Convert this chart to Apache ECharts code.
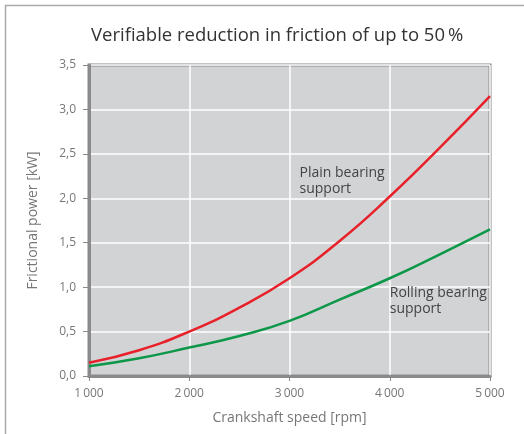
<!DOCTYPE html>
<html><head><meta charset="utf-8">
<script src="https://cdn.jsdelivr.net/npm/echarts@6/dist/echarts.min.js"></script>
<style>html,body{margin:0;padding:0;background:#fff}#c{width:524px;height:434px}</style>
</head><body><div id="c"></div>
<script>
const speeds = [1000, 1500, 2000, 2500, 3000, 3500, 4000, 4500, 5000];
const plainBearing = [0.15, 0.29, 0.50, 0.77, 1.10, 1.52, 2.02, 2.57, 3.15];
const rollingBearing = [0.11, 0.20, 0.32, 0.45, 0.62, 0.86, 1.10, 1.37, 1.65];
const xTicks = [1000, 2000, 3000, 4000, 5000];
const yTicks = [0, 0.5, 1, 1.5, 2, 2.5, 3, 3.5];
const title = 'Verifiable reduction in friction of up to 50\u2009%';
const labelPlain = ['Plain bearing', 'support'];
const labelRolling = ['Rolling bearing', 'support'];
const labelPlainAt = [3100, 2.38];
const labelRollingAt = [4000, 1.02];

const FONT = 'Open Sans';
const chart = echarts.init(document.getElementById('c'), null, {renderer: 'canvas'});
const fmtX = v => String(v).replace(/\B(?=(\d{3})+(?!\d))/g, '\u2009');
chart.setOption({
  animation: false,
  backgroundColor: '#fff',
  title: {text: title, left: 86, top: 21,
    textStyle: {fontFamily: FONT, fontSize: 18.5, fontWeight: 'normal', color: '#333'}},
  grid: {left: 89, right: 34, top: 65, bottom: 58, show: true,
    backgroundColor: '#d2d3d5', borderColor: '#8a8a8c', borderWidth: 3},
  xAxis: {type: 'value', min: 1000, max: 5000, interval: 1000,
    name: 'Crankshaft speed [rpm]', nameLocation: 'middle', nameGap: 35,
    nameTextStyle: {fontFamily: FONT, fontSize: 14, color: '#777'},
    axisLine: {lineStyle: {color: '#8a8a8c', width: 3}},
    axisTick: {show: true, length: 5, lineStyle: {color: '#8a8a8c', width: 1}},
    axisLabel: {fontFamily: FONT, fontSize: 12, color: '#777', margin: 12, formatter: fmtX},
    splitLine: {show: true, lineStyle: {color: '#fff', width: 1.5}}},
  yAxis: {type: 'value', min: 0, max: 3.5, interval: 0.5,
    name: 'Frictional power [kW]', nameLocation: 'middle', nameGap: 49, nameRotate: 90,
    nameTextStyle: {fontFamily: FONT, fontSize: 14, color: '#777'},
    axisLine: {show: true, lineStyle: {color: '#8a8a8c', width: 3}},
    axisTick: {show: true, length: 6, lineStyle: {color: '#8a8a8c', width: 1}},
    axisLabel: {fontFamily: FONT, fontSize: 12, color: '#777', margin: 13,
      formatter: v => v.toFixed(1).replace('.', ',')},
    splitLine: {show: true, lineStyle: {color: '#fff', width: 1.5}}},
  series: [
    {type: 'line', data: speeds.map((s, i) => [s, plainBearing[i]]), smooth: true,
      showSymbol: false, lineStyle: {color: '#e8202a', width: 2.5}},
    {type: 'line', data: speeds.map((s, i) => [s, rollingBearing[i]]), smooth: true,
      showSymbol: false, lineStyle: {color: '#0d9748', width: 2.5}}
  ]
});
const p1 = chart.convertToPixel({gridIndex: 0}, labelPlainAt);
const p2 = chart.convertToPixel({gridIndex: 0}, labelRollingAt);
const txt = (p, lines) => ({type: 'text', left: p[0], top: p[1],
  style: {text: lines.join('\n'), font: '14px "' + FONT + '"', fill: '#444', lineHeight: 16}});
chart.setOption({graphic: [
  {type: 'rect', left: 3, top: 3, shape: {width: 700, height: 700},
    style: {fill: 'none', stroke: '#aaa', lineWidth: 1.5}, silent: true, z: -1},
  txt(p1, labelPlain), txt(p2, labelRolling)
]});
</script></body></html>
